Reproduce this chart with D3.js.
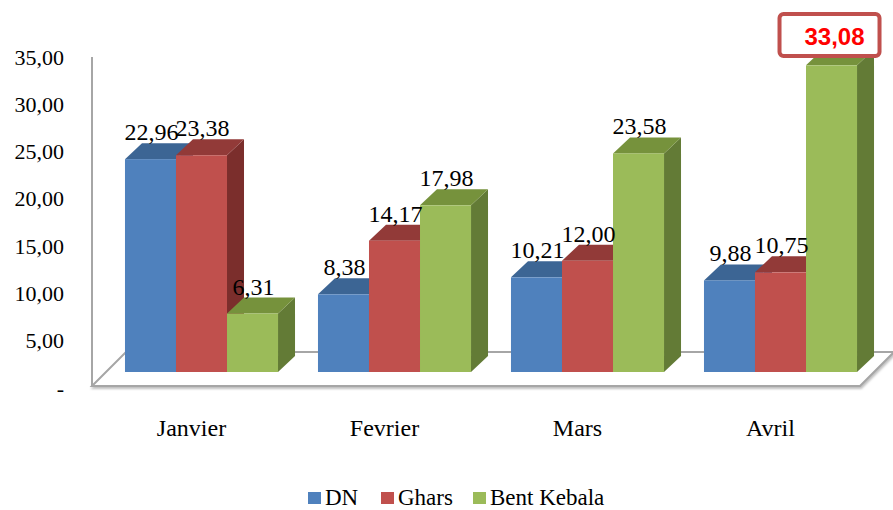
<!DOCTYPE html>
<html><head><meta charset="utf-8">
<script src="https://cdn.jsdelivr.net/npm/d3@7"></script>
<style>body{margin:0;background:#fff}svg{display:block}</style>
</head><body>
<svg id="c" width="893" height="510"></svg>
<script>
const months = ["Janvier","Fevrier","Mars","Avril"];
const series = ["DN","Ghars","Bent Kebala"];
const dn = [22.96, 8.38, 10.21, 9.88];
const ghars = [23.38, 14.17, 12.00, 10.75];
const bentKebala = [6.31, 17.98, 23.58, 33.08];
const yTicks = [0,5,10,15,20,25,30,35];
const highlightLabel = "33,08";

const values = [dn, ghars, bentKebala];
const front = ["#4F81BD","#C0504D","#9BBB59"];
const topC  = ["#3C6594","#923A38","#76923C"];
const sideC = ["#365C89","#7B2E2C","#637B36"];

const SERIF = '"Liberation Serif"';
const svg = d3.select("#c");
const DX=17, DY=16;
const fmt = v => v===0 ? "-" : d3.format(".2f")(v).replace(".",",");

const x0 = d3.scaleBand().domain(months).range([105,877]).paddingInner(0.207).paddingOuter(0.1035);
const x1 = d3.scaleBand().domain(series).range([0,x0.bandwidth()]);
const y = d3.scaleLinear().domain([0,35]).range([372, 372-35*9.27]);
const yAx = d3.scaleLinear().domain([0,35]).range([388,57]);

// floor
const fy=386, by=352, fl=92, fr=860, fd=34;
svg.append("path")
  .attr("d",`M${fl},${fy}L${fl+fd},${by}L${fr+fd},${by}L${fr},${fy}Z`)
  .attr("fill","#fff").attr("stroke","#A6A6A6").attr("stroke-width",2)
  .style("filter","drop-shadow(1px 2px 1px rgba(0,0,0,0.25))");
svg.append("line").attr("x1",fl).attr("x2",fl).attr("y1",57).attr("y2",fy)
  .attr("stroke","#A6A6A6").attr("stroke-width",2);

// y axis labels
const ya = svg.append("g").attr("transform","translate(64,0)")
  .call(d3.axisLeft(yAx).tickValues(yTicks).tickFormat(fmt).tickSize(0).tickPadding(0));
ya.attr("font-family",null).attr("font-size",null);
ya.select(".domain").remove();
ya.selectAll("text").style("font-family",SERIF).style("font-size","22px").attr("fill","#000");

// bars
months.forEach((m,i)=>{
  series.forEach((s,j)=>{
    const v = values[j][i];
    const xa = x0(m)+x1(s), xb = xa + x1.bandwidth();
    const yt = y(v), yb = y(0);
    const g = svg.append("g");
    g.append("path").attr("d",`M${xb},${yt}L${xb+DX},${yt-DY}L${xb+DX},${yb-DY}L${xb},${yb}Z`).attr("fill",sideC[j]);
    g.append("path").attr("d",`M${xa},${yt}L${xa+DX},${yt-DY}L${xb+DX},${yt-DY}L${xb},${yt}Z`).attr("fill",topC[j]);
    g.append("rect").attr("x",xa).attr("y",yt).attr("width",xb-xa).attr("height",yb-yt).attr("fill",front[j]);
  });
});

// value labels
months.forEach((m,i)=>{
  series.forEach((s,j)=>{
    const v = values[j][i];
    const txt = fmt(v);
    if (txt===highlightLabel) return;
    const cx = x0(m)+x1(s)+x1.bandwidth()/2+1;
    svg.append("text").attr("x",cx).attr("y",y(v)-DY-3)
      .attr("text-anchor","middle").style("font-family",SERIF).style("font-size","24px")
      .attr("fill","#000").text(txt);
  });
});

// highlighted label box
{
  const i = months.length-1, j = 2;
  const cx = x0(months[i])+x1(series[j])+x1.bandwidth()/2;
  svg.append("rect").attr("x",cx-52).attr("y",14).attr("width",100).attr("height",42)
    .attr("rx",4).attr("fill","#fff").attr("stroke","#C0504D").attr("stroke-width",4);
  svg.append("text").attr("x",cx+33).attr("y",45).attr("text-anchor","end")
    .style("font-family",'"Liberation Sans"').attr("font-weight","bold")
    .style("font-size","24px").attr("fill","#FF0000").text(fmt(values[j][i]));
}

// category labels
months.forEach(m=>{
  svg.append("text").attr("x",x0(m)+x0.bandwidth()/2-10).attr("y",436)
    .attr("text-anchor","middle").style("font-family",SERIF).style("font-size","24px")
    .attr("fill","#000").text(m);
});

// legend
const legX = [308,381,473];
series.forEach((s,j)=>{
  svg.append("rect").attr("x",legX[j]).attr("y",492).attr("width",13).attr("height",12).attr("fill",front[j]);
  svg.append("text").attr("x",legX[j]+17).attr("y",505)
    .style("font-family",SERIF).style("font-size","23px").attr("fill","#000").text(s);
});
</script>
</body></html>
